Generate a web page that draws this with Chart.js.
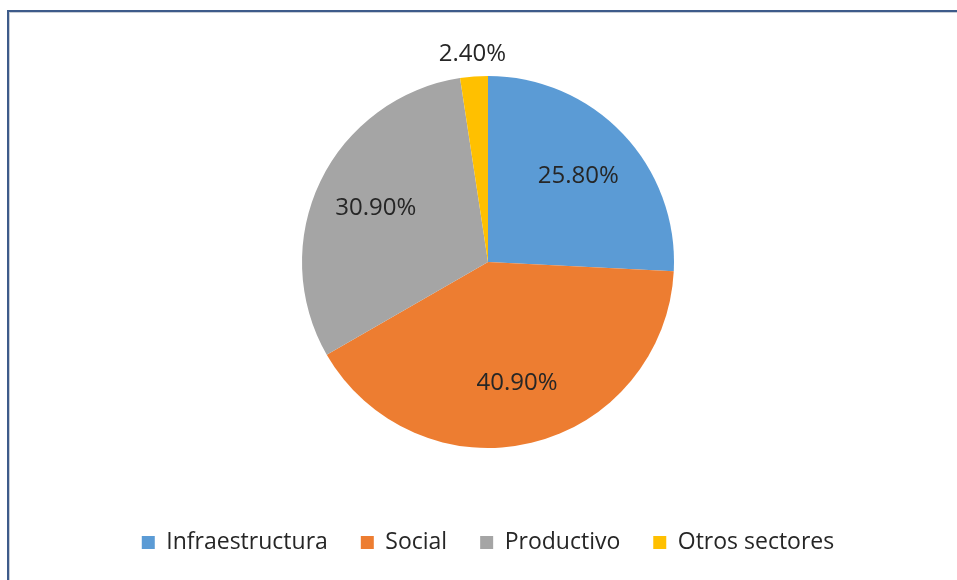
<!DOCTYPE html>
<html>
<head>
<meta charset="utf-8">
<title>Distribución por sector</title>
<script src="https://cdn.jsdelivr.net/npm/chart.js@4.4.1/dist/chart.umd.min.js"></script>
<style>
  html, body { margin: 0; padding: 0; background: #fff; overflow: hidden; }
  #marco { position: absolute; left: 0; top: 0; width: 957px; height: 580px; }
  #borde {
    position: absolute; left: 7px; top: 10px; right: -10px; bottom: -10px;
    border-left: 2px solid #3d5b8a; border-top: 2px solid #3d5b8a;
    box-shadow: inset 1px 1px 0 #c9ced6;
  }
  canvas { position: absolute; left: 0; top: 0; }
</style>
</head>
<body>
<div id="marco">
  <div id="borde"></div>
  <canvas id="sectoresChart" width="957" height="580"></canvas>
</div>
<script>
const categorias = ["Infraestructura", "Social", "Productivo", "Otros sectores"];
const porcentajes = [25.8, 40.9, 30.9, 2.4]; // % del total
const colores = ["#5B9BD5", "#ED7D31", "#A5A5A5", "#FFC000"];

Chart.defaults.font.family = "'Open Sans', sans-serif";

// Etiquetas de porcentaje sobre cada porción
const etiquetas = {
  id: "etiquetas",
  afterDatasetsDraw(chart) {
    const ctx = chart.ctx;
    const meta = chart.getDatasetMeta(0);
    ctx.save();
    ctx.font = "24px 'Open Sans', sans-serif";
    ctx.fillStyle = "#262626";
    ctx.textAlign = "center";
    ctx.textBaseline = "middle";
    meta.data.forEach((arc, i) => {
      const p = arc.getProps(["x", "y", "startAngle", "endAngle", "outerRadius"], true);
      const medio = (p.startAngle + p.endAngle) / 2;
      const fuera = porcentajes[i] < 5; // las porciones chicas van afuera
      const r = fuera ? p.outerRadius + 22 : p.outerRadius * 0.67;
      ctx.fillText(
        porcentajes[i].toFixed(2) + "%",
        p.x + Math.cos(medio) * r,
        p.y + Math.sin(medio) * r
      );
    });
    ctx.restore();
  },
};

const ctx = document.getElementById("sectoresChart").getContext("2d");

new Chart(ctx, {
  type: "pie",
  data: {
    labels: categorias,
    datasets: [
      {
        data: porcentajes,
        backgroundColor: colores,
        borderWidth: 0,
      },
    ],
  },
  options: {
    responsive: false,
    animation: false,
    radius: 186,
    layout: {
      padding: { top: 26, left: 19, right: 0, bottom: 16 },
    },
    plugins: {
      tooltip: { enabled: false },
      legend: {
        position: "bottom",
        labels: {
          boxWidth: 13,
          boxHeight: 13,
          padding: 33,
          color: "#262626",
          font: { size: 23 },
        },
      },
    },
  },
  plugins: [etiquetas],
});
</script>
</body>
</html>
